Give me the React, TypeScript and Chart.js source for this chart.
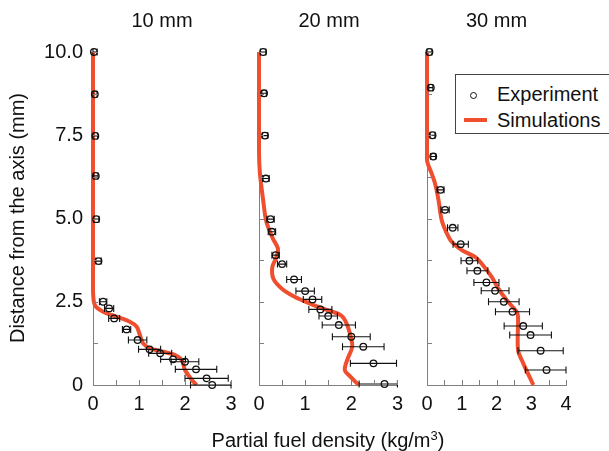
import React, { useEffect, useRef } from 'react';
import { Chart, registerables } from 'chart.js';

Chart.register(...registerables);

const FONT = '"Liberation Sans", Arial, Helvetica, sans-serif';
const RED = '#ef4f2e';
const AXIS = '#808080';
const INK = '#111111';

const PANEL_TITLES = ['10 mm', '20 mm', '30 mm'];
const X_MAX = [3, 3, 4];
const Y_LABEL_VALUES = [0, 2.5, 5, 7.5, 10];
const Y_LABEL_TEXT = ['0', '2.5', '5.0', '7.5', '10.0'];

// 10 mm
const EXP10_X = [0.02, 0.04, 0.05, 0.06, 0.07, 0.12, 0.22, 0.35, 0.46, 0.73, 0.97, 1.23, 1.46, 1.74, 2.0, 2.24, 2.47, 2.59];
const EXP10_Y = [10.0, 8.73, 7.48, 6.28, 4.98, 3.72, 2.5, 2.3, 2.0, 1.67, 1.35, 1.07, 0.95, 0.77, 0.7, 0.47, 0.2, 0.0];
const EXP10_ERR = [0.07, 0.05, 0.05, 0.05, 0.06, 0.06, 0.08, 0.1, 0.12, 0.09, 0.2, 0.24, 0.25, 0.27, 0.3, 0.45, 0.47, 0.47];
const SIM10_X = [0, 0, 0, 0.04, 0.22, 0.51, 0.8, 0.95, 1.02, 1.09, 1.24, 1.53, 1.78, 1.93, 2.0, 2.15, 2.25];
const SIM10_Y = [10, 4, 2.85, 2.4, 2.2, 2.05, 1.9, 1.75, 1.5, 1.25, 1.1, 1.0, 0.9, 0.75, 0.45, 0.15, 0];

// 20 mm
const EXP20_X = [0.09, 0.11, 0.13, 0.15, 0.25, 0.28, 0.36, 0.5, 0.76, 1.0, 1.16, 1.33, 1.5, 1.73, 2.0, 2.26, 2.48, 2.72];
const EXP20_Y = [10.0, 8.76, 7.49, 6.2, 4.98, 4.6, 3.9, 3.63, 3.17, 2.82, 2.57, 2.27, 2.07, 1.8, 1.45, 1.15, 0.65, 0.03];
const EXP20_ERR = [0.06, 0.05, 0.06, 0.07, 0.08, 0.08, 0.08, 0.1, 0.16, 0.2, 0.2, 0.25, 0.2, 0.36, 0.41, 0.45, 0.5, 0.55];
const SIM20_X = [0, 0, 0.02, 0.09, 0.16, 0.3, 0.41, 0.38, 0.29, 0.31, 0.49, 0.77, 1.13, 1.48, 1.77, 1.88, 1.98, 2.02, 1.91, 1.86, 1.98, 2.16];
const SIM20_Y = [10, 7, 6.36, 5.55, 4.9, 4.4, 4.1, 3.85, 3.55, 3.2, 2.9, 2.65, 2.43, 2.25, 2.1, 1.9, 1.5, 1.15, 0.75, 0.45, 0.25, 0];

// 30 mm
const EXP30_X = [0.07, 0.11, 0.16, 0.18, 0.39, 0.52, 0.74, 0.97, 1.22, 1.45, 1.71, 1.96, 2.21, 2.46, 2.77, 2.98, 3.27, 3.44];
const EXP30_Y = [10.0, 8.93, 7.5, 6.86, 5.86, 5.26, 4.72, 4.23, 3.73, 3.43, 3.08, 2.83, 2.5, 2.2, 1.77, 1.5, 1.03, 0.45];
const EXP30_ERR = [0.07, 0.06, 0.07, 0.07, 0.1, 0.12, 0.15, 0.22, 0.24, 0.3, 0.36, 0.4, 0.44, 0.49, 0.55, 0.6, 0.65, 0.61];
const SIM30_X = [0, 0, 0.13, 0.23, 0.33, 0.42, 0.55, 0.71, 1.0, 1.38, 1.57, 1.86, 2.05, 2.29, 2.58, 2.62, 2.62, 2.77, 3.06];
const SIM30_Y = [10, 6.76, 6.36, 6.06, 5.56, 4.96, 4.6, 4.3, 4.05, 3.85, 3.65, 3.25, 2.9, 2.55, 2.2, 2.05, 1.05, 0.65, 0];

const PANELS = [
  { ex: EXP10_X, ey: EXP10_Y, err: EXP10_ERR, sx: SIM10_X, sy: SIM10_Y },
  { ex: EXP20_X, ey: EXP20_Y, err: EXP20_ERR, sx: SIM20_X, sy: SIM20_Y },
  { ex: EXP30_X, ey: EXP30_Y, err: EXP30_ERR, sx: SIM30_X, sy: SIM30_Y },
];

// layout of each canvas (pixels in the 609x451 frame)
const BOXES = [
  { left: 0, width: 245, yWidth: 93, padRight: 14, labels: true },
  { left: 245, width: 165, yWidth: 14, padRight: 11, labels: false },
  { left: 410, width: 199, yWidth: 17, padRight: 43, labels: false },
];
const PAD_TOP = 52;
const X_AXIS_H = 40;
const PAD_BOTTOM = 451 - 385 - X_AXIS_H;

function makeDecor(errors: number[]) {
  return {
    id: 'decor',
    beforeDatasetDraw(chart: any, args: any) {
      if (args.index !== 0) return;
      const ctx = chart.ctx;
      const xs = chart.scales.x;
      const ys = chart.scales.y;
      const data = chart.data.datasets[0].data as { x: number; y: number }[];
      ctx.save();
      ctx.strokeStyle = INK;
      ctx.lineWidth = 1.1;
      data.forEach((p, i) => {
        const e = errors[i];
        const lo = Math.max(xs.min, p.x - e);
        const hi = Math.min(xs.max, p.x + e);
        const x1 = xs.getPixelForValue(lo);
        const x2 = xs.getPixelForValue(hi);
        const y = ys.getPixelForValue(p.y);
        ctx.beginPath();
        ctx.moveTo(x1, y);
        ctx.lineTo(x2, y);
        ctx.moveTo(x1, y - 3.5);
        ctx.lineTo(x1, y + 3.5);
        ctx.moveTo(x2, y - 3.5);
        ctx.lineTo(x2, y + 3.5);
        ctx.stroke();
      });
      ctx.restore();
    },
    afterDraw(chart: any) {
      const ctx = chart.ctx;
      const xs = chart.scales.x;
      const ys = chart.scales.y;
      const area = chart.chartArea;
      ctx.save();
      ctx.strokeStyle = AXIS;
      ctx.lineWidth = 1;
      ctx.beginPath();
      xs.ticks.forEach((t: any) => {
        if (t.value === xs.min) return;
        const px = Math.round(xs.getPixelForValue(t.value)) + 0.5;
        ctx.moveTo(px, area.bottom);
        ctx.lineTo(px, area.bottom - 5);
      });
      ys.ticks.forEach((t: any) => {
        if (t.value === ys.min) return;
        const py = Math.round(ys.getPixelForValue(t.value)) + 0.5;
        ctx.moveTo(area.left, py);
        ctx.lineTo(area.left + 5, py);
      });
      ctx.stroke();
      ctx.restore();
    },
  };
}

function isNear(a: number, b: number) {
  return Math.abs(a - b) < 1e-6;
}

export default function App() {
  const refs = [useRef<HTMLCanvasElement>(null), useRef<HTMLCanvasElement>(null), useRef<HTMLCanvasElement>(null)];

  useEffect(() => {
    const charts: Chart[] = [];
    PANELS.forEach((pn, i) => {
      const box = BOXES[i];
      const canvas = refs[i].current;
      if (!canvas) return;
      const chart = new Chart(canvas, {
        type: 'scatter',
        data: {
          datasets: [
            {
              label: 'Experiment',
              data: pn.ex.map((x, k) => ({ x, y: pn.ey[k] })),
              showLine: false,
              pointStyle: 'circle',
              pointRadius: 3.3,
              pointBorderWidth: 1.3,
              pointBorderColor: INK,
              pointBackgroundColor: 'rgba(255,255,255,0)',
              clip: false,
            } as any,
            {
              label: 'Simulations',
              data: pn.sx.map((x, k) => ({ x, y: pn.sy[k] })),
              showLine: true,
              borderColor: RED,
              borderWidth: 4,
              pointRadius: 0,
              tension: 0.3,
              borderCapStyle: 'butt',
              borderJoinStyle: 'round',
              clip: false,
            } as any,
          ],
        },
        options: {
          responsive: false,
          animation: false,
          events: [],
          layout: { padding: { top: PAD_TOP, right: box.padRight, bottom: PAD_BOTTOM, left: 0 } },
          plugins: { legend: { display: false }, tooltip: { enabled: false }, title: { display: false } },
          scales: {
            x: {
              type: 'linear',
              min: 0,
              max: X_MAX[i],
              grid: { display: false, drawTicks: false },
              border: { display: true, color: AXIS, width: 1 },
              ticks: {
                stepSize: 0.5,
                autoSkip: false,
                maxRotation: 0,
                padding: 7,
                color: INK,
                font: { family: FONT, size: 20 },
                callback: (v: any) => (isNear(v, Math.round(v)) ? String(Math.round(v)) : ''),
              },
              afterFit: (s: any) => {
                s.height = X_AXIS_H;
              },
            },
            y: {
              type: 'linear',
              min: 0,
              max: 10,
              grid: { display: false, drawTicks: false },
              border: { display: true, color: AXIS, width: 1 },
              ticks: {
                stepSize: 1.25,
                autoSkip: false,
                padding: 10,
                color: INK,
                font: { family: FONT, size: 20 },
                callback: (v: any) => {
                  if (!box.labels) return '';
                  const idx = Y_LABEL_VALUES.findIndex((t) => isNear(t, v));
                  return idx >= 0 ? Y_LABEL_TEXT[idx] : '';
                },
              },
              afterFit: (s: any) => {
                s.width = box.yWidth;
              },
            },
          },
        },
        plugins: [makeDecor(pn.err)],
      });
      charts.push(chart);
    });
    return () => charts.forEach((c) => c.destroy());
  }, []);

  const plotCenters = [162, 329, 496.5];

  return (
    <div
      style={{
        position: 'fixed',
        left: 0,
        top: 0,
        width: 609,
        height: 451,
        overflow: 'hidden',
        background: '#fff',
        fontFamily: FONT,
        color: INK,
      }}
    >
      {BOXES.map((b, i) => (
        <canvas
          key={i}
          ref={refs[i]}
          width={b.width}
          height={451}
          style={{ position: 'absolute', left: b.left, top: 0, width: b.width, height: 451 }}
        />
      ))}
      {PANEL_TITLES.map((t, i) => (
        <div
          key={t}
          style={{
            position: 'absolute',
            left: plotCenters[i] - 60,
            width: 120,
            top: 8,
            lineHeight: '24px',
            fontSize: 20,
            textAlign: 'center',
            whiteSpace: 'nowrap',
          }}
        >
          {t}
        </div>
      ))}
      <div
        style={{
          position: 'absolute',
          left: 17 - 200,
          top: 218 - 12,
          width: 400,
          height: 24,
          lineHeight: '24px',
          fontSize: 20,
          textAlign: 'center',
          transform: 'rotate(-90deg)',
          transformOrigin: '50% 50%',
          whiteSpace: 'nowrap',
        }}
      >
        Distance from the axis (mm)
      </div>
      <div
        style={{
          position: 'absolute',
          left: 328 - 200,
          top: 428,
          width: 400,
          lineHeight: '24px',
          fontSize: 20,
          textAlign: 'center',
          whiteSpace: 'nowrap',
        }}
      >
        Partial fuel density (kg/m
        <span style={{ fontSize: 13, verticalAlign: 'top', lineHeight: '16px' }}>3</span>)
      </div>
      <div
        style={{
          position: 'absolute',
          left: 455,
          top: 74,
          width: 170,
          height: 60,
          border: '1px solid #444',
          background: '#fff',
          boxSizing: 'border-box',
        }}
      >
        <div
          style={{
            position: 'absolute',
            left: 472.5 - 455 - 3.5,
            top: 94 - 74 - 3.5,
            width: 5,
            height: 5,
            border: '1.3px solid ' + INK,
            borderRadius: '50%',
          }}
        />
        <div style={{ position: 'absolute', left: 463 - 455, top: 119 - 74 - 2, width: 23, height: 4, background: RED }} />
        <div style={{ position: 'absolute', left: 497 - 456, top: 94 - 74 - 13, lineHeight: '24px', fontSize: 20, whiteSpace: 'nowrap' }}>
          Experiment
        </div>
        <div style={{ position: 'absolute', left: 497 - 456, top: 120 - 74 - 13, lineHeight: '24px', fontSize: 20, whiteSpace: 'nowrap' }}>
          Simulations
        </div>
      </div>
    </div>
  );
}
